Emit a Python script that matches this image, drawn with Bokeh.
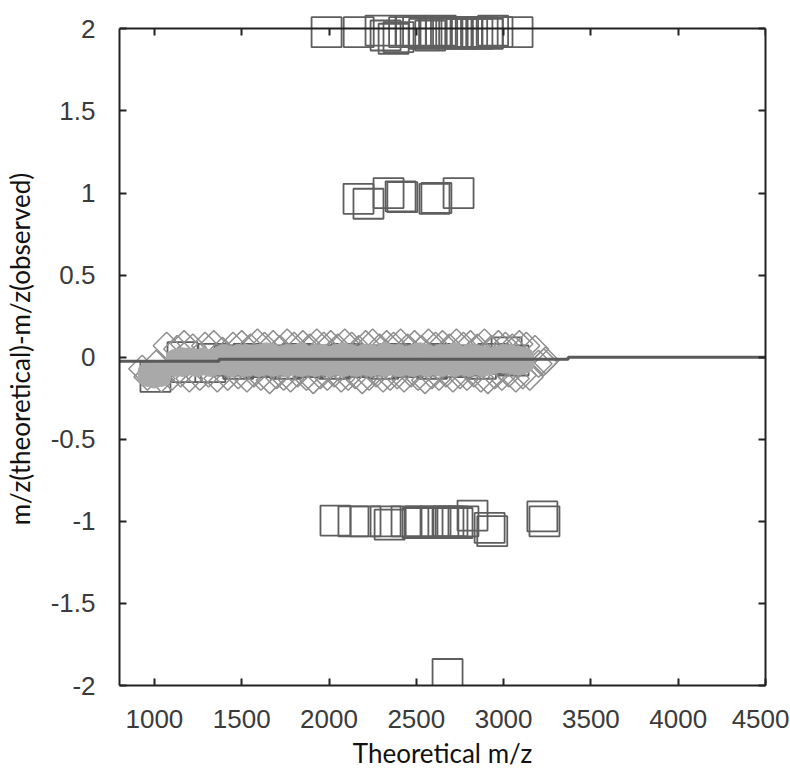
from bokeh.plotting import figure
from bokeh.models import Range1d, LinearAxis, FixedTicker, ColumnDataSource
from bokeh.embed import file_html
from bokeh.resources import INLINE
import math

# ---------------- data ----------------
x_ticks = [1000, 1500, 2000, 2500, 3000, 3500, 4000, 4500]
x_tick_labels = ["1000", "1500", "2000", "2500", "3000", "3500", "4000", "4500"]
y_ticks = [-2, -1.5, -1, -0.5, 0, 0.5, 1, 1.5, 2]
y_tick_labels = ["-2", "-1.5", "-1", "-0.5", "0", "0.5", "1", "1.5", "2"]

# open squares, error ~ +2
squares_plus2 = [(1986, 1.98), (2170, 1.98), (2295, 1.99), (2324, 1.96), (2370, 1.94),
                 (2398, 1.95), (2430, 1.98), (2470, 1.99), (2510, 1.98), (2545, 1.97),
                 (2580, 1.96), (2610, 1.98), (2640, 1.99), (2670, 1.98), (2700, 1.97),
                 (2730, 1.98), (2760, 1.97), (2790, 1.98), (2820, 1.98), (2850, 1.97),
                 (2880, 1.98), (2910, 1.97), (2940, 1.99), (2965, 1.98), (3080, 1.98)]
# open squares, error ~ +1
squares_plus1 = [(2169, 0.965), (2226, 0.935), (2341, 1.0), (2410, 0.98), (2420, 0.975),
                 (2604, 0.965), (2615, 0.97), (2742, 1.0)]
# open squares, error ~ 0
squares_zero = [(1006, -0.12), (1161, 0.0), (1180, -0.06), (1320, -0.06), (1338, -0.01),
                (1430, -0.02), (1480, -0.04), (1540, -0.01), (1610, -0.03), (1680, -0.02),
                (1750, -0.04), (1820, -0.01), (1890, -0.03), (1960, -0.02), (2030, -0.04),
                (2100, -0.01), (2170, -0.03), (2240, -0.02), (2310, -0.04), (2380, -0.01),
                (2450, -0.03), (2520, -0.02), (2590, -0.04), (2660, -0.01), (2730, -0.03),
                (2800, -0.02), (2870, -0.04), (2940, -0.01), (3017, 0.03), (3057, -0.02)]
# open squares, error ~ -1
squares_minus1 = [(2037, -0.995), (2140, -1.0), (2209, -1.0), (2324, -1.0), (2347, -1.02),
                  (2444, -1.0), (2507, -1.01), (2525, -1.0), (2610, -1.0), (2655, -1.01),
                  (2684, -1.0), (2707, -1.0), (2736, -1.01), (2770, -1.0), (2822, -0.965),
                  (2920, -1.04), (2935, -1.06), (3222, -0.97), (3234, -1.0)]
# open squares, error ~ -2
squares_minus2 = [(2679, -1.93)]

# open diamonds around zero
diamonds = [(930, -0.07), (1010, -0.04), (1070, 0.07), (1130, 0.05), (1170, 0.08),
            (1220, 0.06), (1290, 0.07), (1340, 0.08), (1390, 0.04), (1450, 0.07),
            (1500, 0.08), (1550, 0.06), (1590, 0.09), (1630, 0.07), (1680, 0.08),
            (1720, 0.05), (1760, 0.09), (1800, 0.07), (1850, 0.08), (1890, 0.06),
            (1930, 0.09), (1970, 0.07), (2010, 0.08), (2050, 0.06), (2090, 0.09),
            (2130, 0.07), (2170, 0.05), (2210, 0.08), (2250, 0.09), (2290, 0.06),
            (2330, 0.08), (2370, 0.07), (2410, 0.09), (2450, 0.06), (2490, 0.08),
            (2530, 0.05), (2570, 0.09), (2610, 0.07), (2650, 0.08), (2690, 0.06),
            (2730, 0.09), (2770, 0.07), (2810, 0.08), (2850, 0.06), (2890, 0.09),
            (2930, 0.05), (2970, 0.08), (3010, 0.07), (3050, 0.06), (3090, 0.08),
            (3130, 0.07), (3180, 0.05), (3230, -0.03),
            (960, -0.12), (1040, -0.13), (1100, -0.12), (1150, -0.10), (1200, -0.13),
            (1260, -0.12), (1310, -0.10), (1360, -0.13), (1420, -0.12), (1480, -0.11),
            (1530, -0.13), (1570, -0.10), (1610, -0.12), (1660, -0.14), (1700, -0.11),
            (1740, -0.12), (1780, -0.13), (1820, -0.10), (1870, -0.12), (1910, -0.14),
            (1950, -0.11), (1990, -0.12), (2030, -0.10), (2070, -0.13), (2110, -0.12),
            (2150, -0.11), (2190, -0.14), (2230, -0.12), (2270, -0.10), (2310, -0.13),
            (2350, -0.12), (2390, -0.11), (2430, -0.13), (2470, -0.10), (2510, -0.12),
            (2550, -0.14), (2590, -0.11), (2630, -0.12), (2670, -0.10), (2710, -0.13),
            (2750, -0.11), (2790, -0.12), (2830, -0.10), (2870, -0.13), (2910, -0.14),
            (2950, -0.11), (2990, -0.12), (3030, -0.10), (3070, -0.13), (3110, -0.11),
            (3150, -0.12), (3200, -0.04), (3240, -0.02)]

# filled grey points around zero
fill_x = [960, 1000, 1040, 1120, 1160, 1200, 1240, 1280, 1320, 1360,
          1400, 1440, 1480, 1520, 1560, 1600, 1640, 1680, 1720, 1760,
          1800, 1840, 1880, 1920, 1960, 2000, 2040, 2080, 2120, 2160,
          2200, 2240, 2280, 2320, 2360, 2400, 2440, 2480, 2520, 2560,
          2600, 2640, 2680, 2720, 2760, 2800, 2840, 2880, 2920, 2960,
          3000, 3040, 3080, 3120]
fill_upper = [-0.09, -0.09, -0.08, -0.01, 0.0, 0.0, -0.01, 0.0, -0.01, 0.0,
              0.02, 0.01, 0.02, 0.02, 0.01, 0.02, 0.03, 0.02, 0.01, 0.02,
              0.02, 0.03, 0.01, 0.02, 0.02, 0.01, 0.02, 0.03, 0.02, 0.01,
              0.02, 0.02, 0.01, 0.03, 0.02, 0.02, 0.01, 0.02, 0.03, 0.02,
              0.01, 0.02, 0.02, 0.03, 0.01, 0.02, 0.02, 0.01, 0.0, 0.01,
              0.02, 0.02, 0.01, 0.0]
fill_lower = [-0.12, -0.13, -0.12, -0.06, -0.06, -0.05, -0.06, -0.05, -0.06, -0.05,
              -0.05, -0.06, -0.05, -0.06, -0.05, -0.06, -0.05, -0.06, -0.05, -0.06,
              -0.05, -0.06, -0.05, -0.06, -0.05, -0.06, -0.05, -0.06, -0.05, -0.06,
              -0.05, -0.06, -0.05, -0.06, -0.05, -0.06, -0.05, -0.06, -0.05, -0.06,
              -0.05, -0.06, -0.05, -0.06, -0.05, -0.06, -0.05, -0.06, -0.05, -0.04,
              -0.04, -0.04, -0.05, -0.04]

# running offset line
line_x = [800, 1370, 1370, 3370, 3370, 4500]
line_y = [-0.025, -0.025, -0.012, -0.012, 0.0, 0.0]

# axis box limits (the frame is a little taller so markers may overhang the top)
x_min, x_max = 800, 4500
y_min, y_max = -2, 2
y_view_max = 2.1

# ---------------- figure ----------------
p = figure(frame_width=646, frame_height=673,
           x_range=Range1d(x_min, x_max), y_range=Range1d(y_min, y_view_max),
           output_backend="svg", toolbar_location=None,
           min_border_left=110, min_border_top=12, min_border_right=24, min_border_bottom=0,
           background_fill_color="white", border_fill_color="white")
p.grid.visible = False
p.outline_line_color = None

TICK_FONT = "Liberation Sans"
LABEL_FONT = "Lato"

def style_axis(ax, show_labels):
    ax.axis_line_color = "#222222"
    ax.axis_line_width = 2
    ax.major_tick_line_color = "#222222"
    ax.major_tick_line_width = 2
    ax.major_tick_in = 7
    ax.major_tick_out = 0
    ax.minor_tick_line_color = None
    if show_labels:
        ax.major_label_text_font = TICK_FONT
        ax.major_label_text_font_size = "26px"
        ax.major_label_text_color = "#3a3a3a"
        ax.major_label_standoff = 24
    else:
        ax.major_label_text_font_size = "0px"
        ax.major_label_standoff = 0

xa = p.xaxis[0]
xa.ticker = FixedTicker(ticks=x_ticks)
xa.major_label_overrides = {t: l for t, l in zip(x_ticks, x_tick_labels)}
style_axis(xa, True)
xa.axis_label = "Theoretical m/z"
xa.axis_label_text_font = LABEL_FONT
xa.axis_label_text_font_size = "26px"
xa.axis_label_text_font_style = "normal"
xa.axis_label_text_color = "#111111"
xa.axis_label_standoff = 6

ya = p.yaxis[0]
ya.ticker = FixedTicker(ticks=y_ticks)
ya.major_label_overrides = {t: l for t, l in zip(y_ticks, y_tick_labels)}
ya.bounds = (y_min, y_max)
style_axis(ya, True)
ya.axis_label = "m/z(theoretical)-m/z(observed)"
ya.axis_label_text_font = LABEL_FONT
ya.axis_label_text_font_size = "26px"
ya.axis_label_text_font_style = "normal"
ya.axis_label_text_color = "#111111"
ya.axis_label_standoff = 12

top_ax = LinearAxis(ticker=FixedTicker(ticks=x_ticks), fixed_location=y_max)
top_ax.major_label_overrides = {t: "" for t in x_ticks}
style_axis(top_ax, False)
p.add_layout(top_ax, "above")

right_ax = LinearAxis(ticker=FixedTicker(ticks=y_ticks), bounds=(y_min, y_max))
right_ax.major_label_overrides = {t: "" for t in y_ticks}
style_axis(right_ax, False)
p.add_layout(right_ax, "right")

SQ_COLOR = "#5e5e5e"
all_squares = squares_plus2 + squares_plus1 + squares_zero + squares_minus1 + squares_minus2
sq_src = ColumnDataSource(dict(x=[s[0] for s in all_squares], y=[s[1] for s in all_squares]))
p.scatter("x", "y", source=sq_src, marker="square", size=30,
          fill_color=None, line_color=SQ_COLOR, line_width=1.8)

dm_src = ColumnDataSource(dict(x=[d[0] for d in diamonds], y=[d[1] for d in diamonds]))
p.scatter("x", "y", source=dm_src, marker="square", size=19, angle=math.pi / 4,
          fill_color=None, line_color="#8f8f8f", line_width=1.5)

fx = fill_x + fill_x
fy = fill_upper + fill_lower
p.scatter(fx, fy, marker="circle", size=20, fill_color="#a9a9a9", line_color=None)

p.line(line_x, line_y, line_width=3, line_color="#5a5a5a")

open("out.html", "w").write(file_html(p, INLINE))
